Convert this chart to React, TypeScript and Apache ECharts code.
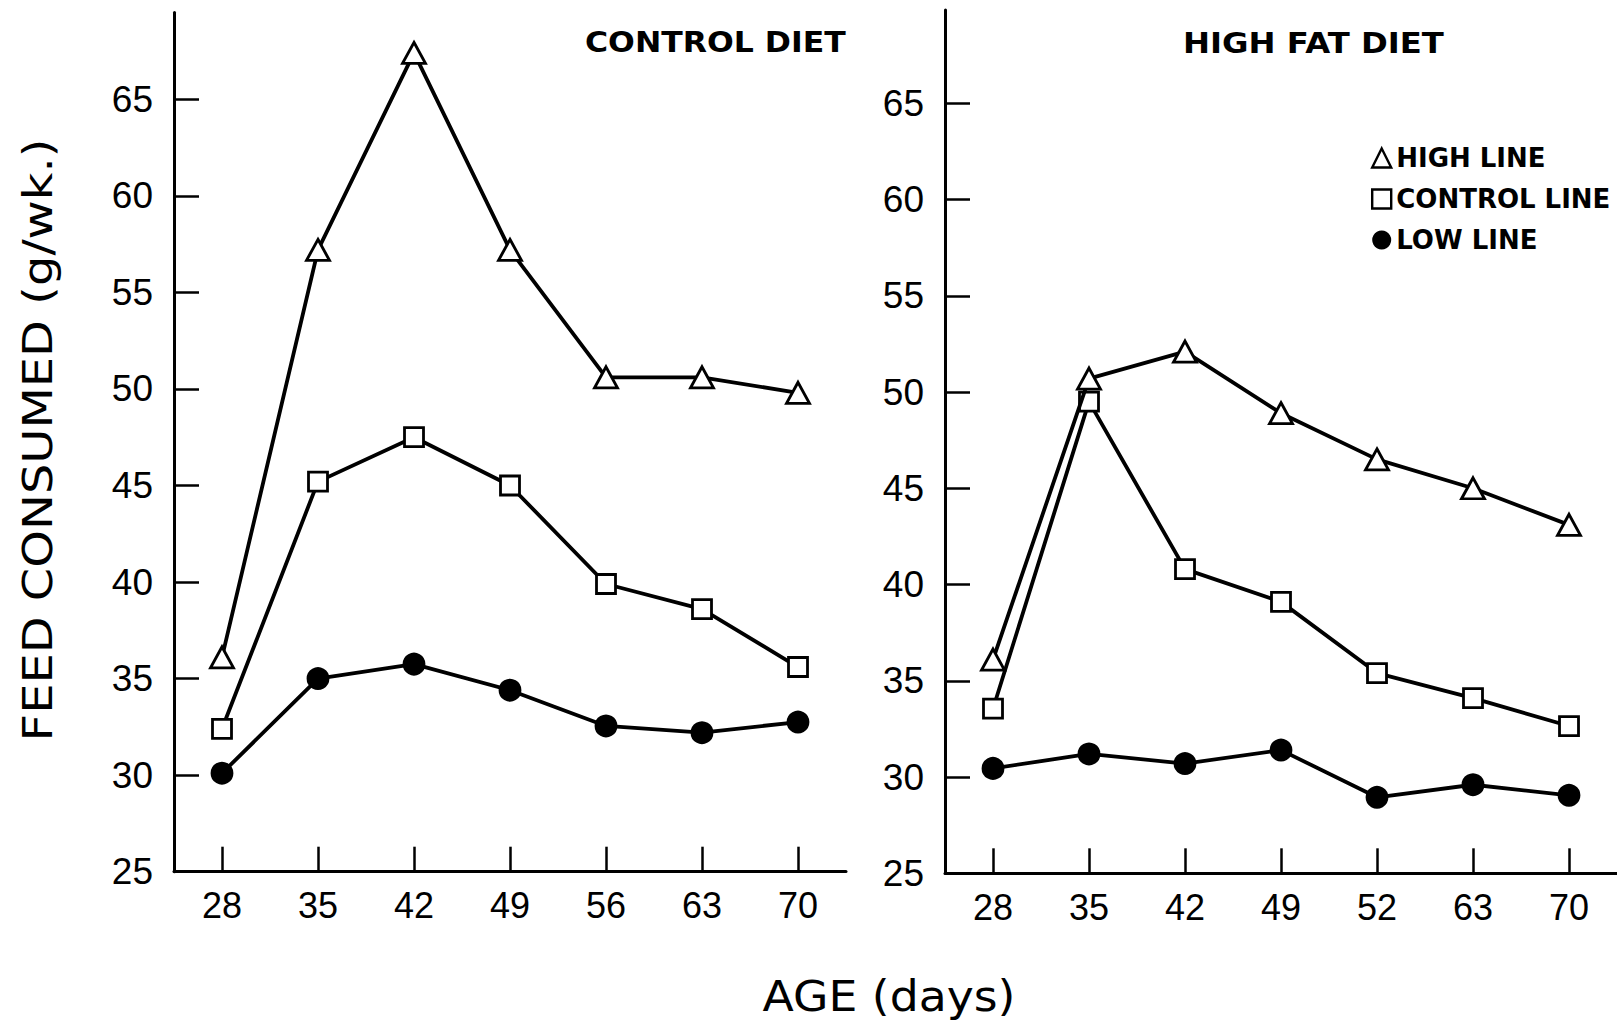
import React, { useEffect, useRef } from "react";
import * as echarts from "echarts";

// Categories (age in days) as printed under each panel
const ageControlDiet = ["28", "35", "42", "49", "56", "63", "70"];
const ageHighFatDiet = ["28", "35", "42", "49", "52", "63", "70"];
const yTickValues = [25, 30, 35, 40, 45, 50, 55, 60, 65];

// Feed consumed (g/wk.) — CONTROL DIET panel
const controlDietHighLine = [36.1, 57.2, 67.4, 57.2, 50.6, 50.6, 49.8];
const controlDietControlLine = [32.4, 45.2, 47.5, 45.0, 39.9, 38.6, 35.6];
const controlDietLowLine = [30.1, 35.0, 35.75, 34.4, 32.55, 32.2, 32.75];

// Feed consumed (g/wk.) — HIGH FAT DIET panel
const highFatHighLine = [36.1, 50.7, 52.1, 48.9, 46.5, 45.0, 43.1];
const highFatControlLine = [33.55, 49.5, 40.8, 39.1, 35.4, 34.1, 32.65];
const highFatLowLine = [30.45, 31.2, 30.7, 31.4, 28.95, 29.6, 29.05];

const lineNames = ["HIGH LINE", "CONTROL LINE", "LOW LINE"];
const panelTitles = ["CONTROL DIET", "HIGH FAT DIET"];
const yAxisTitle = "FEED CONSUMED (g/wk.)";
const xAxisTitle = "AGE (days)";

const FONT_NAME = "DejaVu Sans";
const FONT = "'DejaVu Sans', 'Liberation Sans', sans-serif";
const NUMFONT = "'Liberation Sans', Arial, sans-serif";
const BLACK = "#000";

function measure(text: string, size: number, weight: string) {
  const c = document.createElement("canvas").getContext("2d");
  if (!c) return text.length * size * 0.6;
  c.font = `${weight} ${size}px "${FONT_NAME}"`;
  return c.measureText(text).width;
}

// Text stretched along its own direction so that it spans a given length
function stretchedText(
  text: string,
  x: number,
  y: number,
  size: number,
  weight: string,
  targetWidth: number,
  align: string,
  rotation = 0
) {
  const w = measure(text, size, weight);
  return {
    type: "text",
    x,
    y,
    rotation,
    scaleX: targetWidth / w,
    scaleY: 1,
    silent: true,
    style: {
      text,
      fontFamily: FONT,
      fontSize: size,
      fontWeight: weight,
      fill: BLACK,
      textAlign: align,
      textVerticalAlign: "middle",
    },
  };
}

export default function App() {
  const ref = useRef<HTMLDivElement>(null);

  useEffect(() => {
    document.body.style.margin = "0";
    if (!ref.current) return;
    const chart = echarts.init(ref.current, undefined, { renderer: "svg" });

    const makeX = (gridIndex: number, data: string[]) => ({
      type: "category",
      gridIndex,
      data,
      boundaryGap: true,
      axisLine: { show: true, lineStyle: { color: BLACK, width: 3 } },
      axisTick: {
        show: true,
        inside: true,
        length: 25,
        alignWithLabel: true,
        lineStyle: { color: BLACK, width: 2.5 },
      },
      axisLabel: { color: BLACK, fontSize: 36, margin: 16, fontFamily: NUMFONT },
      splitLine: { show: false },
    });

    const makeY = (gridIndex: number, max: number) => ({
      type: "value",
      gridIndex,
      min: 25,
      max,
      interval: 5,
      axisLine: { show: true, lineStyle: { color: BLACK, width: 3 } },
      axisTick: {
        show: true,
        inside: true,
        length: 25,
        customValues: yTickValues,
        lineStyle: { color: BLACK, width: 2.5 },
      },
      axisLabel: {
        color: BLACK,
        fontSize: 37,
        margin: 21,
        fontFamily: NUMFONT,
        customValues: yTickValues,
      },
      splitLine: { show: false },
    });

    const symbolFor = [
      { symbol: "triangle", symbolSize: [23, 21], color: "#fff" },
      { symbol: "rect", symbolSize: 19, color: "#fff" },
      { symbol: "circle", symbolSize: 20, color: BLACK },
    ];

    const makeSeries = (name: string, idx: number, data: number[], gridIdx: number) => ({
      type: "line",
      name,
      xAxisIndex: gridIdx,
      yAxisIndex: gridIdx,
      data,
      symbol: symbolFor[idx].symbol,
      symbolSize: symbolFor[idx].symbolSize,
      showSymbol: true,
      lineStyle: { color: BLACK, width: 3.8 },
      itemStyle: { color: symbolFor[idx].color, borderColor: BLACK, borderWidth: 2.8 },
      emphasis: { disabled: true },
      z: 3 - idx,
    });

    const option: any = {
      animation: false,
      backgroundColor: "#fff",
      textStyle: { fontFamily: FONT, color: BLACK },
      legend: {
        orient: "vertical",
        left: 1371,
        top: 145,
        padding: 0,
        itemGap: 15,
        itemWidth: 19,
        itemHeight: 19,
        selectedMode: false,
        textStyle: { fontFamily: FONT, fontSize: 26, fontWeight: "bold", color: BLACK, lineHeight: 26 },
        data: [
          { name: lineNames[0], icon: "triangle", itemStyle: { color: "#fff", borderColor: BLACK, borderWidth: 2.4 } },
          { name: lineNames[1], icon: "rect", itemStyle: { color: "#fff", borderColor: BLACK, borderWidth: 2.4 } },
          { name: lineNames[2], icon: "circle", itemStyle: { color: BLACK, borderColor: BLACK, borderWidth: 0 } },
        ],
      },
      grid: [
        { left: 174, top: 12.4, width: 672, height: 859.3 },
        { left: 945, top: 9.9, width: 672, height: 863.4 },
      ],
      xAxis: [makeX(0, ageControlDiet), makeX(1, ageHighFatDiet)],
      yAxis: [makeY(0, 69.5), makeY(1, 69.85)],
      series: [
        makeSeries(lineNames[0], 0, controlDietHighLine, 0),
        makeSeries(lineNames[1], 1, controlDietControlLine, 0),
        makeSeries(lineNames[2], 2, controlDietLowLine, 0),
        makeSeries(lineNames[0], 0, highFatHighLine, 1),
        makeSeries(lineNames[1], 1, highFatControlLine, 1),
        makeSeries(lineNames[2], 2, highFatLowLine, 1),
      ],
      graphic: [
        stretchedText(panelTitles[0], 585, 42, 29, "bold", 261, "left"),
        stretchedText(panelTitles[1], 1183, 43, 29, "bold", 261, "left"),
        stretchedText(yAxisTitle, 38, 440, 40, "normal", 603, "center", Math.PI / 2),
        stretchedText(xAxisTitle, 889, 996, 42, "normal", 253, "center"),
      ],
    };

    chart.setOption(option);
    return () => chart.dispose();
  }, []);

  return <div ref={ref} style={{ width: 1617, height: 1023 }} />;
}
